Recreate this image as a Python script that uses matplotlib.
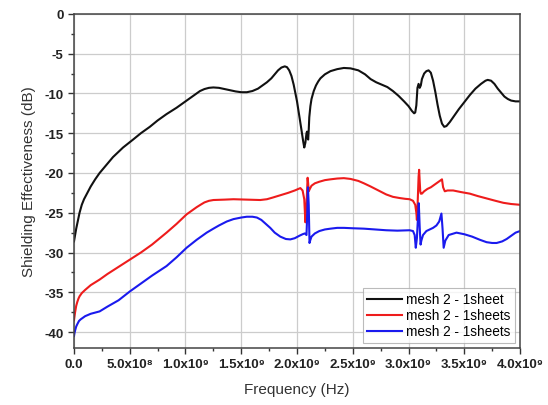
import matplotlib
matplotlib.use("Agg")
import matplotlib.pyplot as plt
from matplotlib.ticker import MultipleLocator, FixedLocator

plt.rcParams['font.family'] = ['Liberation Sans', 'DejaVu Sans']
plt.rcParams['axes.unicode_minus'] = False

# Frequency in GHz (scaled to Hz below), shielding effectiveness in dB
f_black = [0.0, 0.01, 0.02, 0.035, 0.05, 0.07, 0.09, 0.12, 0.15, 0.19, 0.23, 0.29, 0.35, 0.44,
           0.53, 0.6, 0.68, 0.75, 0.83, 0.92, 1.0, 1.06, 1.1, 1.13, 1.17, 1.21, 1.25, 1.3,
           1.35, 1.4, 1.45, 1.5, 1.55, 1.6, 1.65, 1.69, 1.73, 1.77, 1.8, 1.83, 1.86, 1.89,
           1.91, 1.93, 1.95, 1.97, 2.0, 2.02, 2.04, 2.055, 2.065, 2.075, 2.085, 2.09, 2.095,
           2.10, 2.105, 2.11, 2.12, 2.13, 2.15, 2.17, 2.19, 2.21, 2.25, 2.3, 2.36, 2.42,
           2.48, 2.55, 2.61, 2.66, 2.71, 2.76, 2.81, 2.86, 2.91, 2.96, 3.0, 3.03, 3.05,
           3.06, 3.07, 3.08, 3.09, 3.10, 3.11, 3.12, 3.14, 3.16, 3.18, 3.2, 3.22, 3.24,
           3.26, 3.28, 3.3, 3.32, 3.34, 3.37, 3.4, 3.45, 3.5, 3.55, 3.6, 3.65, 3.69, 3.71,
           3.74, 3.77, 3.8, 3.83, 3.86, 3.89, 3.92, 3.96, 4.0]
se_black = [-28.6, -27.8, -27.0, -26.0, -25.0, -24.0, -23.3, -22.5, -21.7, -20.8, -20.0, -19.0, -18.0, -16.8,
            -15.8, -15.0, -14.2, -13.4, -12.6, -11.8, -11.0, -10.4, -10.0, -9.7, -9.45, -9.3, -9.25, -9.3,
            -9.45, -9.6, -9.75, -9.85, -9.85, -9.7, -9.4, -9.0, -8.6, -8.1, -7.6, -7.1, -6.75, -6.6,
            -6.7, -7.1, -7.8, -8.9, -11.0, -12.8, -14.6, -16.0, -16.8, -16.2, -15.0, -14.8, -15.5,
            -15.8, -14.6, -13.0, -11.6, -10.7, -9.7, -9.0, -8.5, -8.1, -7.6, -7.2, -6.95, -6.8,
            -6.85, -7.1, -7.6, -8.2, -8.6, -8.9, -9.2, -9.7, -10.3, -11.0, -11.6, -12.2, -12.5,
            -12.4, -11.5, -9.3, -8.8, -9.3, -9.0, -8.2, -7.5, -7.2, -7.1, -7.4, -8.4, -9.8,
            -11.4, -12.8, -13.8, -14.2, -14.1, -13.6, -13.0, -12.0, -11.1, -10.2, -9.4, -8.8, -8.4, -8.3,
            -8.4, -8.8, -9.4, -9.9, -10.4, -10.7, -10.9, -11.0, -11.0]

f_red = [0.0, 0.005, 0.01, 0.02, 0.03, 0.04, 0.05, 0.07, 0.1, 0.15, 0.23, 0.3, 0.4, 0.5, 0.6,
         0.7, 0.83, 0.92, 1.01, 1.06, 1.1, 1.14, 1.17, 1.21, 1.25, 1.35, 1.43, 1.55, 1.67,
         1.73, 1.78, 1.85, 1.92, 1.98, 2.03, 2.05, 2.065, 2.075, 2.085, 2.095, 2.1, 2.105,
         2.115, 2.13, 2.16, 2.2, 2.25, 2.3, 2.36, 2.42, 2.48, 2.55, 2.6, 2.66, 2.73, 2.8,
         2.86, 2.92, 2.97, 3.01, 3.04, 3.06, 3.07, 3.075, 3.08, 3.09, 3.095, 3.1, 3.105,
         3.11, 3.12, 3.14, 3.17, 3.2, 3.23, 3.26, 3.29, 3.3, 3.31, 3.325, 3.35, 3.4, 3.47,
         3.55, 3.62, 3.7, 3.78, 3.85, 3.92, 4.0]
se_red = [-38.5, -38.0, -37.5, -36.7, -36.2, -35.8, -35.5, -35.1, -34.7, -34.1, -33.4, -32.7, -31.8, -30.9, -30.0,
          -29.0, -27.5, -26.4, -25.2, -24.7, -24.3, -23.95, -23.7, -23.5, -23.4, -23.35, -23.3, -23.35, -23.4,
          -23.3, -23.1, -22.8, -22.5, -22.2, -21.9, -22.2, -23.3, -26.2, -24.0, -20.6, -21.3, -22.3,
          -22.0, -21.6, -21.3, -21.1, -20.9, -20.8, -20.7, -20.65, -20.75, -21.0, -21.3, -21.7, -22.2, -22.7,
          -23.0, -23.15, -23.25, -23.3, -23.5, -24.0, -25.0, -25.9, -24.5, -20.5, -19.6, -21.0, -22.3,
          -22.6, -22.6, -22.3, -22.0, -21.8, -21.5, -21.2, -20.9, -20.8, -21.8, -22.3, -22.2, -22.2, -22.4,
          -22.6, -22.9, -23.2, -23.5, -23.75, -23.9, -24.0]

f_blue = [0.0, 0.005, 0.01, 0.02, 0.03, 0.045, 0.06, 0.08, 0.1, 0.15, 0.23, 0.3, 0.4, 0.5, 0.6,
          0.7, 0.83, 0.92, 1.01, 1.1, 1.19, 1.25, 1.3, 1.37, 1.43, 1.5, 1.55, 1.6, 1.64, 1.68,
          1.72, 1.76, 1.8, 1.85, 1.9, 1.94, 1.98, 2.02, 2.05, 2.07, 2.085, 2.092, 2.098, 2.105,
          2.112, 2.12, 2.13, 2.16, 2.2, 2.25, 2.3, 2.36, 2.42, 2.5, 2.6, 2.7, 2.8, 2.9, 3.01,
          3.04, 3.055, 3.065, 3.075, 3.085, 3.092, 3.1, 3.108, 3.115, 3.13, 3.16, 3.19, 3.22,
          3.25, 3.275, 3.295, 3.305, 3.315, 3.33, 3.36, 3.43, 3.5, 3.57, 3.64, 3.7, 3.75, 3.79,
          3.84, 3.88, 3.92, 3.96, 4.0]
se_blue = [-40.5, -40.1, -39.8, -39.3, -39.0, -38.6, -38.4, -38.2, -38.0, -37.7, -37.4, -36.8, -36.0, -34.9, -33.9,
           -32.9, -31.7, -30.6, -29.4, -28.4, -27.5, -27.0, -26.6, -26.1, -25.8, -25.6, -25.5, -25.5, -25.6, -25.9,
           -26.4, -26.9, -27.5, -28.0, -28.3, -28.35, -28.2, -27.9, -27.7, -27.6, -27.8, -25.0, -21.8, -24.0,
           -28.8, -28.4, -28.0, -27.6, -27.3, -27.1, -27.0, -26.9, -26.9, -26.95, -27.0, -27.1, -27.2, -27.25, -27.2,
           -27.3, -27.8, -29.4, -28.2, -25.5, -23.8, -26.8, -29.0, -28.5, -27.8, -27.3, -27.1, -26.9,
           -26.6, -26.1, -25.1, -27.0, -29.4, -28.5, -27.8, -27.5, -27.7, -28.0, -28.4, -28.7, -28.8, -28.8,
           -28.6, -28.3, -27.9, -27.5, -27.3]

x_ticks = [0.0, 0.5, 1.0, 1.5, 2.0, 2.5, 3.0, 3.5, 4.0]
x_tick_labels = ['0.0', '5.0x10\u2078', '1.0x10\u2079', '1.5x10\u2079', '2.0x10\u2079',
                 '2.5x10\u2079', '3.0x10\u2079', '3.5x10\u2079', '4.0x10\u2079']
labels = ['mesh 2 - 1sheet', 'mesh 2 - 1sheets', 'mesh 2 - 1sheets']

fig = plt.figure(figsize=(5.48, 4.06), dpi=100)
ax = fig.add_axes([0.135, 0.1404, 0.814, 0.823])

ax.plot([v * 1e9 for v in f_black], se_black, color='#111111', lw=1.5, label=labels[0])
ax.plot([v * 1e9 for v in f_red], se_red, color='#ee1c1c', lw=1.5, label=labels[1])
ax.plot([v * 1e9 for v in f_blue], se_blue, color='#1a1aee', lw=1.5, label=labels[2])

ax.set_xlim(0, 4e9)
ax.set_ylim(-42, 0)
ax.xaxis.set_major_locator(FixedLocator([v * 1e9 for v in x_ticks]))
ax.set_xticklabels(x_tick_labels, fontweight='bold', fontsize=9.5)
ax.xaxis.set_minor_locator(MultipleLocator(2.5e8))
ax.yaxis.set_major_locator(MultipleLocator(5))
ax.yaxis.set_minor_locator(MultipleLocator(2.5))
for lab in ax.get_yticklabels():
    lab.set_fontweight('bold')
    lab.set_fontsize(9.5)

ax.tick_params(which='major', direction='out', length=4, width=1, colors='#333333')
ax.tick_params(which='minor', direction='out', length=2.5, width=1, colors='#333333')
ax.tick_params(labelcolor='#222222')
ax.grid(which='major', color='#cccccc', lw=0.9)
for s in ax.spines.values():
    s.set_color('#444444')
    s.set_linewidth(1.1)

ax.set_xlabel('Frequency (Hz)', fontsize=11, color='#333333', labelpad=8)
ax.set_ylabel('Shielding Effectiveness (dB)', fontsize=11, color='#333333', labelpad=6)

leg = ax.legend(loc='lower right', fontsize=9.8, frameon=True, fancybox=False,
                handlelength=2.6, handletextpad=0.3, borderpad=0.3, labelspacing=0.15,
                borderaxespad=0.4)
leg.get_frame().set_edgecolor('#aaaaaa')
leg.get_frame().set_linewidth(0.8)

fig.savefig('out.png', dpi=100)
